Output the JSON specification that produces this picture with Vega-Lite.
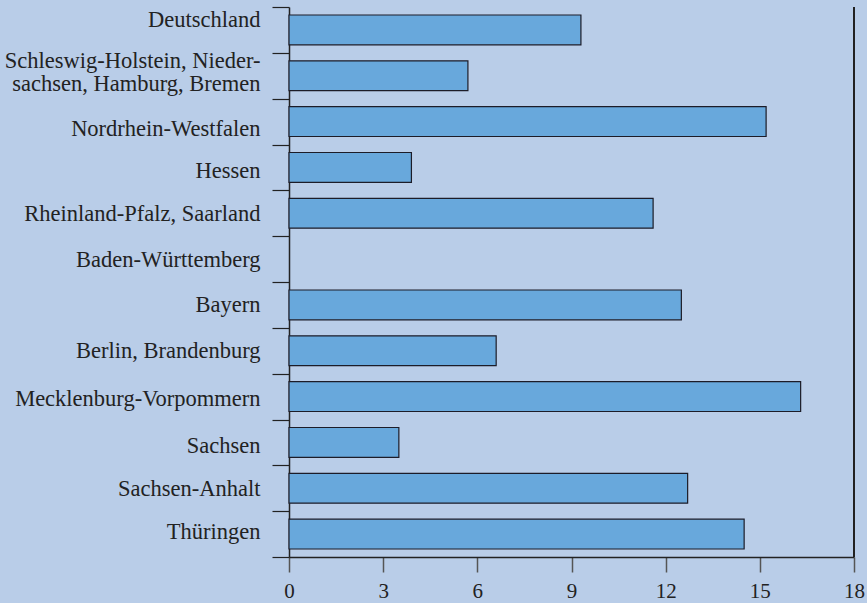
{
  "$schema": "https://vega.github.io/schema/vega-lite/v6.json",
  "width": 565,
  "height": 550,
  "autosize": {"type": "none"},
  "padding": {"left": 289, "top": 7, "right": 13, "bottom": 46},
  "background": "#b9cde8",
  "config": {
    "view": {"stroke": null},
    "font": "Liberation Serif",
    "axis": {"labelFont": "Liberation Serif", "labelColor": "#222222", "grid": false}
  },
  "data": {
    "values": [
      {"name": "Deutschland", "value": 9.3},
      {"name": "Schleswig-Holstein, Niedersachsen, Hamburg, Bremen", "value": 5.7},
      {"name": "Nordrhein-Westfalen", "value": 15.2},
      {"name": "Hessen", "value": 3.9},
      {"name": "Rheinland-Pfalz, Saarland", "value": 11.6},
      {"name": "Baden-Württemberg", "value": null},
      {"name": "Bayern", "value": 12.5},
      {"name": "Berlin, Brandenburg", "value": 6.6},
      {"name": "Mecklenburg-Vorpommern", "value": 16.3},
      {"name": "Sachsen", "value": 3.5},
      {"name": "Sachsen-Anhalt", "value": 12.7},
      {"name": "Thüringen", "value": 14.5}
    ]
  },
  "layer": [
    {
      "mark": {"type": "bar", "color": "#68a8dc", "stroke": "#1c1c28", "strokeWidth": 1.2, "height": {"band": 0.65}},
      "encoding": {
        "y": {
          "field": "name",
          "type": "nominal",
          "title": null,
          "scale": {
            "domain": ["Deutschland", "Schleswig-Holstein, Niedersachsen, Hamburg, Bremen", "Nordrhein-Westfalen", "Hessen", "Rheinland-Pfalz, Saarland", "Baden-Württemberg", "Bayern", "Berlin, Brandenburg", "Mecklenburg-Vorpommern", "Sachsen", "Sachsen-Anhalt", "Thüringen"],
            "paddingInner": 0,
            "paddingOuter": 0
          },
          "axis": {
            "tickBand": "extent",
            "tickSize": 17,
            "tickColor": "#222222",
            "tickWidth": 1.2,
            "domainColor": "#222222",
            "domainWidth": 1.5,
            "labelPadding": 12,
            "labelFontSize": 22.5,
            "labelLineHeight": 23,
            "labelLimit": 400,
            "labelExpr": "datum.value == 'Schleswig-Holstein, Niedersachsen, Hamburg, Bremen' ? ['Schleswig-Holstein, Nieder-', 'sachsen, Hamburg, Bremen'] : datum.label",
            "labelOffset": {
              "condition": [
                {"test": "datum.value == 'Deutschland'", "value": -10},
                {"test": "datum.value == 'Schleswig-Holstein, Niedersachsen, Hamburg, Bremen'", "value": -15},
                {"test": "datum.value == 'Nordrhein-Westfalen'", "value": 7},
                {"test": "datum.value == 'Hessen'", "value": 3.5},
                {"test": "datum.value == 'Mecklenburg-Vorpommern'", "value": 2},
                {"test": "datum.value == 'Sachsen'", "value": 3.5},
                {"test": "datum.value == 'Thüringen'", "value": -3}
              ],
              "value": 0
            }
          }
        },
        "x": {
          "field": "value",
          "type": "quantitative",
          "title": null,
          "scale": {"domain": [0, 18], "nice": false},
          "axis": {
            "values": [0, 3, 6, 9, 12, 15, 18],
            "tickSize": 15,
            "tickColor": "#555555",
            "tickWidth": 1.5,
            "domainColor": "#222222",
            "domainWidth": 1.5,
            "labelPadding": 8,
            "labelFontSize": 21,
            "labelFlush": false
          }
        }
      }
    },
    {
      "mark": {"type": "rule", "color": "#222222", "strokeWidth": 1.5},
      "encoding": {"x": {"datum": 18, "type": "quantitative"}}
    }
  ]
}
